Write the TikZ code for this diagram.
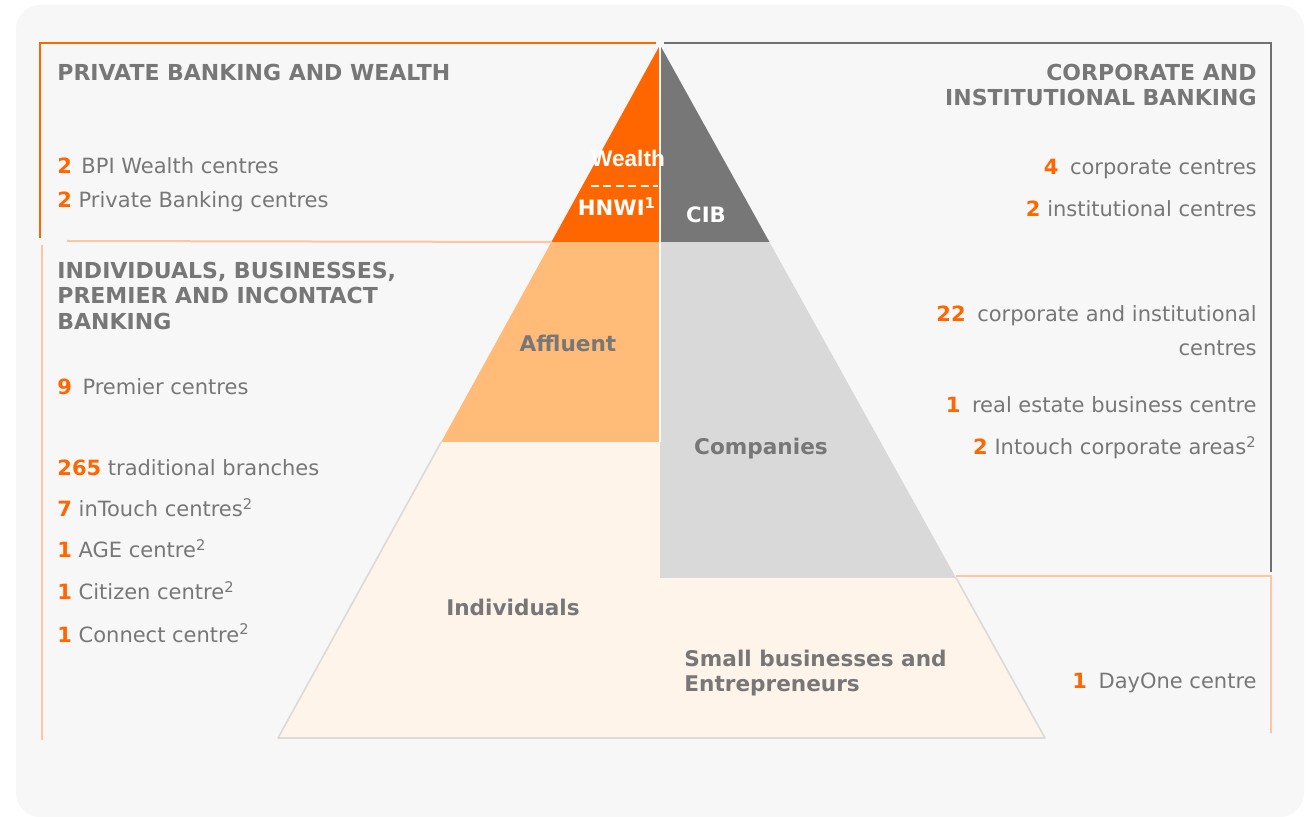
\documentclass[tikz,border=0pt]{standalone}
\usepackage{fontspec}
\setmainfont{DejaVu Sans}
\newfontfamily\narrowfont{Liberation Sans}
\definecolor{bpiorange}{HTML}{FF6600}
\definecolor{txtgray}{HTML}{777777}
\definecolor{cibgray}{HTML}{777777}
\definecolor{affluent}{HTML}{FFBB77}
\definecolor{companies}{HTML}{D9D9D9}
\definecolor{cream}{HTML}{FEF4EA}
\definecolor{panel}{HTML}{F7F7F7}
\definecolor{peach}{HTML}{FFC4A0}
\definecolor{bracketgray}{HTML}{707070}
\definecolor{edgegray}{HTML}{DADADA}
\newcommand\nm[1]{\textcolor{bpiorange}{\bfseries #1}}
\tikzset{
  lbl/.style={inner sep=0pt, text=txtgray, font=\fontsize{10.5}{12.5}\selectfont},
  head/.style={lbl, font=\fontsize{11}{13}\selectfont\bfseries},
  seglbl/.style={inner sep=0pt, text=txtgray, font=\fontsize{10.8}{13}\selectfont\bfseries},
  inlbl/.style={inner sep=0pt, text=white, font=\fontsize{10.6}{13}\selectfont\bfseries},
  bracket/.style={line width=1pt},
}
\begin{document}
\begin{tikzpicture}[x=0.5pt, y=-0.5pt]
\useasboundingbox (0,0) rectangle (1306,817);
% panel
\fill[white] (0,0) rectangle (1306,817);
\fill[panel, rounded corners=12pt] (16,5) rectangle (1304,817);

% pyramid coordinates
\coordinate (apex) at (660,45);
\coordinate (l1) at (551.4,242);
\coordinate (r1) at (769.4,242);
\coordinate (m1) at (660,242);
\coordinate (l2) at (441.2,442);
\coordinate (m2) at (660,442);
\coordinate (m3) at (660,578);
\coordinate (r3) at (956.1,578);
\coordinate (bl) at (278,738);
\coordinate (br) at (1045,738);

% tiers
\fill[cream] (l2) -- (m2) -- (m3) -- (r3) -- (br) -- (bl) -- cycle;
\draw[edgegray, line width=0.8pt, line join=round] (l2) -- (bl) -- (br) -- (r3);
\fill[affluent] (l1) -- (m1) -- (m2) -- (l2) -- cycle;
\fill[companies] (m1) -- (r1) -- (r3) -- (m3) -- cycle;
\fill[bpiorange] (apex) -- (m1) -- (l1) -- cycle;
\fill[cibgray] (apex) -- (r1) -- (m1) -- cycle;
\draw[white, line width=0.6pt] (apex) -- (m2);
\draw[white, line width=0.6pt, dash pattern=on 4pt off 2.2pt] (591,186) -- (658,186);

% brackets
\draw[bracket, bpiorange] (40,238) -- (40,43) -- (656,43);
\draw[bracket, peach] (67,241) -- (l1);
\draw[bracket, peach] (42,245) -- (42,740);
\draw[bracket, bracketgray] (664,43) -- (1271,43) -- (1271,572);
\draw[bracket, peach] (r3 |- 0,576) -- (1271,576) -- (1271,733);

% labels inside the pyramid
\node[inlbl, anchor=base, font=\fontsize{11.3}{13}\selectfont\narrowfont\bfseries] (wealth) at (628,167) {Wealth};
\node[inlbl, anchor=base] (hnwi) at (617,216) {HNWI\textsuperscript{1}};
\node[inlbl, anchor=base] (cib) at (706,223) {CIB};
\node[seglbl, anchor=base] (affl) at (568,352) {Affluent};
\node[seglbl, anchor=base] (comp) at (761,455) {Companies};
\node[seglbl, anchor=base] (indiv) at (513,615) {Individuals};
\node[seglbl, anchor=base west] (smb1) at (684,666) {Small businesses and};
\node[seglbl, anchor=base west] (smb2) at (684,691) {Entrepreneurs};

% left column
\node[head, anchor=base west] (pbw) at (57,81) {PRIVATE BANKING AND WEALTH};
\node[lbl, anchor=base west] (pbw1) at (57,174) {\nm{2}\hspace{0.45em}BPI Wealth centres};
\node[lbl, anchor=base west] (pbw2) at (57,208) {\nm{2} Private Banking centres};
\node[head, anchor=base west] (ind1) at (57,279) {INDIVIDUALS, BUSINESSES,};
\node[head, anchor=base west] (ind2) at (57,304) {PREMIER AND INCONTACT};
\node[head, anchor=base west] (ind3) at (57,330) {BANKING};
\node[lbl, anchor=base west] (prem) at (57,395) {\nm{9}\hspace{0.5em}Premier centres};
\node[lbl, anchor=base west] (trad) at (57,476) {\nm{265} traditional branches};
\node[lbl, anchor=base west] (intc) at (57,517) {\nm{7} inTouch centres\textsuperscript{2}};
\node[lbl, anchor=base west] (age) at (57,558) {\nm{1} AGE centre\textsuperscript{2}};
\node[lbl, anchor=base west] (cit) at (57,600) {\nm{1} Citizen centre\textsuperscript{2}};
\node[lbl, anchor=base west] (con) at (57,642) {\nm{1} Connect centre\textsuperscript{2}};

% right column
\node[head, anchor=base east] (cib1) at (1257,81) {CORPORATE AND};
\node[head, anchor=base east] (cib2) at (1257,106) {INSTITUTIONAL BANKING};
\node[lbl, anchor=base east] (corp) at (1257,175) {\nm{4}\hspace{0.55em}corporate centres};
\node[lbl, anchor=base east] (inst) at (1257,217) {\nm{2} institutional centres};
\node[lbl, anchor=base east] (ci1) at (1257,322) {\nm{22}\hspace{0.55em}corporate and institutional};
\node[lbl, anchor=base east] (ci2) at (1257,356) {centres};
\node[lbl, anchor=base east] (re) at (1257,413) {\nm{1}\hspace{0.55em}real estate business centre};
\node[lbl, anchor=base east] (ica) at (1257,455) {\nm{2} Intouch corporate areas\textsuperscript{2}};
\node[lbl, anchor=base east] (day) at (1257,688) {\nm{1}\hspace{0.55em}DayOne centre};
\end{tikzpicture}
\end{document}
